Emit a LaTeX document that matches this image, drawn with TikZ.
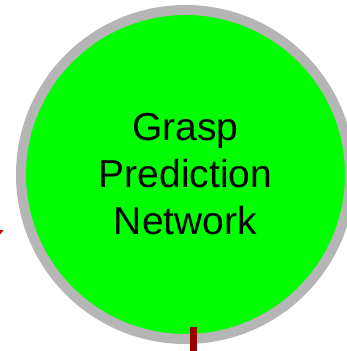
\documentclass[tikz,border=0pt]{standalone}
\usepackage{fontspec}
\setmainfont{Liberation Sans}
\definecolor{ringgray}{HTML}{B5B5B5}
\definecolor{netgreen}{HTML}{00FF00}
\definecolor{linkred}{HTML}{9A0000}
\definecolor{tipred}{HTML}{C00000}
\tikzset{
  netnode/.style={circle, draw=ringgray, fill=netgreen, line width=10pt,
    minimum size=329pt, inner sep=0pt, align=center,
    font=\fontsize{39}{47}\selectfont},
  linkbar/.style={draw=linkred, line width=7.4pt},
}
\begin{document}
\begin{tikzpicture}[x=1pt,y=-1pt]
  \useasboundingbox (0,0) rectangle (347,351);
  \node[netnode] (gpn) at (185.5,174.5) {Grasp\\Prediction\\Network};
  % incoming link from below
  \coordinate (linkin) at (193.7,352);
  \coordinate (linkend) at (193.7,326.7);
  \draw[linkbar] (linkin) -- (linkend);
  % tip of an outgoing arrow at the left edge
  \fill[tipred] (0,230) -- (3.6,230) -- (0,234.5) -- cycle;
\end{tikzpicture}
\end{document}
